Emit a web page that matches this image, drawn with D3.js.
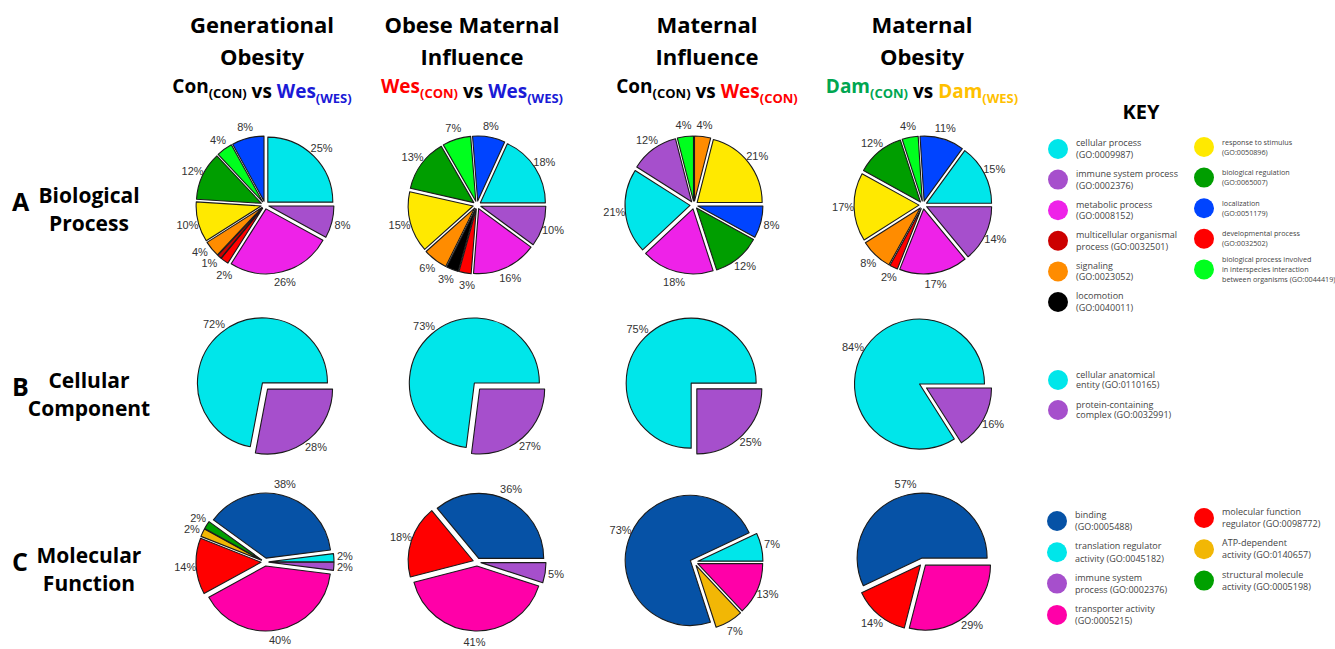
<!DOCTYPE html>
<html>
<head>
<meta charset="utf-8">
<script src="https://cdn.jsdelivr.net/npm/d3@7"></script>
<style>
body { margin: 0; background: #fff; }
svg { display: block; }
</style>
</head>
<body>
<div id="chart"></div>
<script>
// ---- text ----
var colTitles = [["Generational", "Obesity"], ["Obese Maternal", "Influence"], ["Maternal", "Influence"], ["Maternal", "Obesity"]];
// [name, subscript, colour] for the two sides of each comparison
var colCompare = [
    [["Con", "(CON)", "#000"], ["Wes", "(WES)", "#1a1ad6"]],
    [["Wes", "(CON)", "#ff0000"], ["Wes", "(WES)", "#1a1ad6"]],
    [["Con", "(CON)", "#000"], ["Wes", "(CON)", "#ff0000"]],
    [["Dam", "(CON)", "#00a651"], ["Dam", "(WES)", "#ffc000"]]
];
var rowLetters = ["A", "B", "C"];
var rowTitles = [["Biological", "Process"], ["Cellular", "Component"], ["Molecular", "Function"]];

// ---- biological process categories ----
var bpKeys = ["cellular", "immune", "metabolic", "multicellular", "signaling", "locomotion",
              "response", "regulation", "localization", "developmental", "interspecies"];
var bpColors = ["#00e6ea", "#a64fcc", "#ee22e8", "#cc0000", "#ff8c00", "#000000",
                "#ffe900", "#009e00", "#0044ff", "#ff0000", "#00ff1e"];
var bpLegend = [
    ["cellular process", "(GO:0009987)"],
    ["immune system process", "(GO:0002376)"],
    ["metabolic process", "(GO:0008152)"],
    ["multicellular organismal", "process (GO:0032501)"],
    ["signaling", "(GO:0023052)"],
    ["locomotion", "(GO:0040011)"],
    ["response to stimulus", "(GO:0050896)"],
    ["biological regulation", "(GO:0065007)"],
    ["localization", "(GO:0051179)"],
    ["developmental process", "(GO:0032502)"],
    ["biological process involved", "in interspecies interaction", "between organisms (GO:0044419)"]
];

// ---- cellular component categories ----
var ccKeys = ["anatomical", "complex"];
var ccColors = ["#00e6ea", "#a64fcc"];
var ccLegend = [["cellular anatomical", "entity (GO:0110165)"], ["protein-containing", "complex (GO:0032991)"]];

// ---- molecular function categories ----
var mfKeys = ["binding", "translation", "immune", "transporter", "regulator", "atp", "structural"];
var mfColors = ["#0652a6", "#00e6ea", "#a64fcc", "#ff00a8", "#ff0000", "#f2b705", "#00a000"];
var mfLegend = [
    ["binding", "(GO:0005488)"],
    ["translation regulator", "activity (GO:0045182)"],
    ["immune system", "process (GO:0002376)"],
    ["transporter activity", "(GO:0005215)"],
    ["molecular function", "regulator (GO:0098772)"],
    ["ATP-dependent", "activity (GO:0140657)"],
    ["structural molecule", "activity (GO:0005198)"]
];

// ---- slices (%), listed clockwise from 3 o'clock ----
var bpGenObesity = [["immune", 8], ["metabolic", 26], ["developmental", 2], ["multicellular", 1], ["signaling", 4],
                    ["response", 10], ["regulation", 12], ["interspecies", 4], ["localization", 8], ["cellular", 25]];
var bpObeseMatInf = [["immune", 10], ["metabolic", 16], ["developmental", 3], ["locomotion", 3], ["signaling", 6],
                     ["response", 15], ["regulation", 13], ["interspecies", 7], ["localization", 8], ["cellular", 18]];
var bpMatInf = [["localization", 8], ["regulation", 12], ["metabolic", 18], ["cellular", 21], ["immune", 12],
                ["interspecies", 4], ["signaling", 4], ["response", 21]];
var bpMatObesity = [["immune", 14], ["metabolic", 17], ["developmental", 2], ["signaling", 8], ["response", 17],
                    ["regulation", 12], ["interspecies", 4], ["localization", 11], ["cellular", 15]];

var ccGenObesity = [["complex", 28], ["anatomical", 72]];
var ccObeseMatInf = [["complex", 27], ["anatomical", 73]];
var ccMatInf = [["complex", 25], ["anatomical", 75]];
var ccMatObesity = [["complex", 16], ["anatomical", 84]];

var mfGenObesity = [["immune", 2], ["transporter", 40], ["regulator", 14], ["atp", 2], ["structural", 2], ["binding", 38], ["translation", 2]];
var mfObeseMatInf = [["immune", 5], ["transporter", 41], ["regulator", 18], ["binding", 36]];
var mfMatInf = [["transporter", 13], ["atp", 7], ["binding", 73], ["translation", 7]];
var mfMatObesity = [["transporter", 29], ["regulator", 14], ["binding", 57]];

// ---- layout ----
var width = 1335, height = 649;
var pieX = [265, 477, 694, 923];
var pieY = [205, 386, 562];
var titleX = [262, 472, 707, 922];
var radius = 65;
var explode = 4;
var labelGap = 11;

var svg = d3.select("#chart").append("svg")
    .attr("width", width)
    .attr("height", height)
    .style("font-family", "'Open Sans', sans-serif");

var bpColor = d3.scaleOrdinal().domain(bpKeys).range(bpColors);
var ccColor = d3.scaleOrdinal().domain(ccKeys).range(ccColors);
var mfColor = d3.scaleOrdinal().domain(mfKeys).range(mfColors);

// column headers
colTitles.forEach(function(lines, i) {
    var t = svg.append("text")
        .attr("text-anchor", "middle")
        .attr("font-weight", 700)
        .attr("font-size", 22)
        .attr("fill", "#000");
    lines.forEach(function(l, j) {
        t.append("tspan").attr("x", titleX[i]).attr("y", 33 + j * 32).text(l);
    });
    var c = svg.append("text")
        .attr("x", titleX[i])
        .attr("y", 93)
        .attr("text-anchor", "middle")
        .attr("font-weight", 700)
        .attr("font-size", 19);
    colCompare[i].forEach(function(side, k) {
        if (k == 1) c.append("tspan").attr("fill", "#000").text(" vs ");
        c.append("tspan").attr("fill", side[2]).text(side[0]);
        c.append("tspan").attr("fill", side[2]).attr("font-size", 13).attr("dy", 5).text(side[1]);
        c.append("tspan").attr("dy", -5).text("");
    });
});

// row labels
rowTitles.forEach(function(lines, i) {
    var base = [203, 388, 563][i];
    svg.append("text")
        .attr("x", 12)
        .attr("y", base + 8)
        .attr("font-weight", 700)
        .attr("font-size", 25)
        .text(rowLetters[i]);
    var t = svg.append("text")
        .attr("text-anchor", "middle")
        .attr("font-weight", 700)
        .attr("font-size", 21);
    lines.forEach(function(l, j) {
        t.append("tspan").attr("x", 89).attr("y", base + j * 28).text(l);
    });
});

svg.append("text")
    .attr("x", 1141)
    .attr("y", 119)
    .attr("text-anchor", "middle")
    .attr("font-weight", 700)
    .attr("font-size", 20)
    .text("KEY");

var pie = d3.pie()
    .sort(null)
    .value(function(d) { return d[1]; })
    .startAngle(Math.PI / 2)
    .endAngle(Math.PI / 2 + 2 * Math.PI);

var arc = d3.arc().innerRadius(0).outerRadius(radius);

function drawPie(slices, color, cx, cy) {
    var g = svg.append("g").attr("transform", "translate(" + cx + "," + cy + ")");
    var arcs = pie(slices);

    g.selectAll("path")
        .data(arcs)
        .enter().append("path")
        .attr("d", arc)
        .attr("fill", function(d) { return color(d.data[0]); })
        .attr("stroke", "#1a1a1a")
        .attr("stroke-width", 1.1)
        .attr("stroke-linejoin", "round")
        .attr("transform", function(d) {
            var m = (d.startAngle + d.endAngle) / 2;
            return "translate(" + explode * Math.sin(m) + "," + (-explode * Math.cos(m)) + ")";
        });

    // label positions, then slide overlapping ones apart along the rim
    var labels = arcs.map(function(d) {
        var m = (d.startAngle + d.endAngle) / 2;
        var rl = radius + explode + labelGap;
        return { x: rl * Math.sin(m), y: -rl * Math.cos(m), m: m, text: d.data[1] + "%" };
    });
    var bw = 21, bh = 11;
    for (var it = 0; it < 60; it++) {
        for (var a = 0; a < labels.length; a++) {
            for (var b = a + 1; b < labels.length; b++) {
                var la = labels[a], lb = labels[b];
                if (Math.abs(lb.x - la.x) < bw && Math.abs(lb.y - la.y) < bh) {
                    var mm = (la.m + lb.m) / 2;
                    var tx = Math.cos(mm), ty = Math.sin(mm);
                    la.x -= tx * 0.5; la.y -= ty * 0.5;
                    lb.x += tx * 0.5; lb.y += ty * 0.5;
                }
            }
        }
    }

    g.selectAll("text")
        .data(labels)
        .enter().append("text")
        .attr("x", function(d) { return d.x; })
        .attr("y", function(d) { return d.y; })
        .attr("dy", "0.35em")
        .attr("text-anchor", "middle")
        .attr("font-family", "'Liberation Sans', Arial, sans-serif")
        .attr("font-size", 11)
        .attr("fill", "#333")
        .text(function(d) { return d.text; });
}

[bpGenObesity, bpObeseMatInf, bpMatInf, bpMatObesity].forEach(function(s, i) { drawPie(s, bpColor, pieX[i], pieY[0]); });
[ccGenObesity, ccObeseMatInf, ccMatInf, ccMatObesity].forEach(function(s, i) { drawPie(s, ccColor, pieX[i], pieY[1]); });
[mfGenObesity, mfObeseMatInf, mfMatInf, mfMatObesity].forEach(function(s, i) { drawPie(s, mfColor, pieX[i], pieY[2]); });

// legends
function drawLegend(keys, color, lines, o) {
    keys.forEach(function(k, i) {
        var col = Math.floor(i / o.perCol), row = i % o.perCol;
        var cx = o.x[col], cy = o.y[col] + row * o.dy;
        svg.append("circle")
            .attr("cx", cx)
            .attr("cy", cy)
            .attr("r", 10)
            .attr("fill", color(k));
        var n = lines[i].length;
        var t = svg.append("text")
            .attr("font-size", o.font[col])
            .attr("fill", "#444");
        lines[i].forEach(function(l, j) {
            t.append("tspan")
                .attr("x", cx + 18)
                .attr("y", cy + (j - (n - 1) / 2) * o.lh[col] + o.font[col] * 0.35)
                .text(l);
        });
    });
}

drawLegend(bpKeys, bpColor, bpLegend, { x: [1058, 1204], y: [149, 147], dy: 30.6, perCol: 6, font: [9, 7.2], lh: [11.5, 10] });
drawLegend(ccKeys, ccColor, ccLegend, { x: [1058], y: [380], dy: 30, perCol: 2, font: [9], lh: [10.5] });
drawLegend(mfKeys, mfColor, mfLegend, { x: [1057, 1204], y: [521, 518], dy: 31.3, perCol: 4, font: [9, 9], lh: [12.5, 12] });
</script>
</body>
</html>
